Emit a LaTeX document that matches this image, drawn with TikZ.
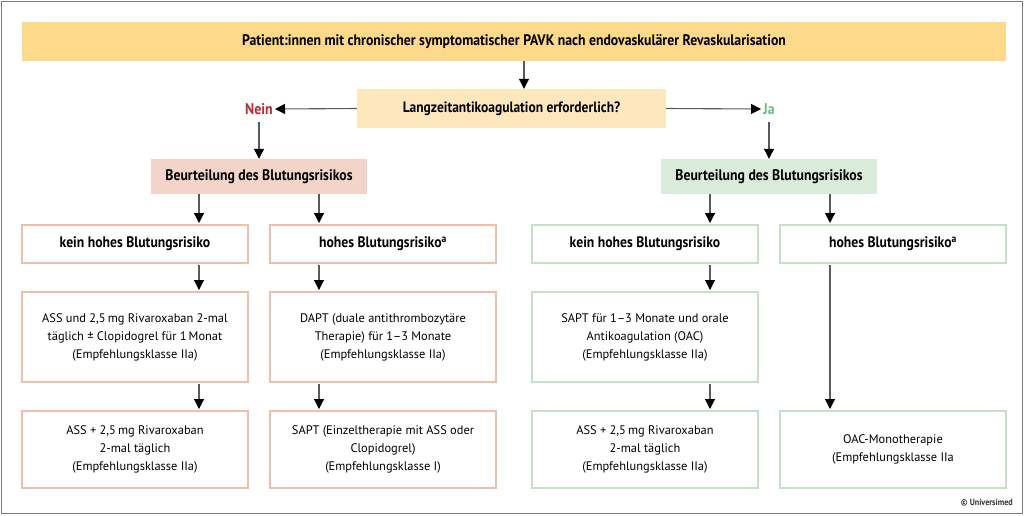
\documentclass[tikz,border=0pt]{standalone}
\usepackage{fontspec}
\setmainfont{PT Sans}[BoldFeatures={FakeStretch=0.9}]
\usetikzlibrary{arrows.meta,calc}
\definecolor{topfill}{HTML}{FCD98B}
\definecolor{qfill}{HTML}{FDE8BD}
\definecolor{neinred}{HTML}{C1272D}
\definecolor{jagreen}{HTML}{6FBA7C}
\definecolor{pinkfill}{HTML}{F3D4C9}
\definecolor{pinkline}{HTML}{EFBFAE}
\definecolor{greenfill}{HTML}{D9EBDA}
\definecolor{greenline}{HTML}{C4E0C7}
\definecolor{arrcol}{HTML}{5A5A5A}
\definecolor{framecol}{HTML}{7A7A7A}
\tikzset{
  boxbase/.style={inner sep=0pt, align=center, font=\fontsize{12.4}{18}\selectfont},
  headbox/.style={inner sep=0pt, align=center, font=\fontsize{15.3}{18}\selectfont\bfseries},
  riskbox/.style={font=\fontsize{15.2}{18}\selectfont\bfseries},
  pinkbox/.style={boxbase, draw=pinkline, line width=2pt, fill=white},
  greenbox/.style={boxbase, draw=greenline, line width=2pt, fill=white},
  answer/.style={font=\fontsize{15.5}{18}\selectfont\bfseries, inner sep=2pt},
  arr/.style={draw=arrcol, line width=1.1pt, -{Triangle[width=10pt,length=10pt,color=black]}},
}
\begin{document}
\begin{tikzpicture}[x=1pt,y=-1pt]
\useasboundingbox (0,0) rectangle (1024,515);
\draw[framecol, line width=1.5pt] (1.5,1.5) rectangle (1022.5,513.5);
% top
\node[headbox, fill=topfill, minimum width=984pt, minimum height=39pt] (top) at (514,41.5) {Patient:innen mit chronischer symptomatischer PAVK nach endovaskulärer Revaskularisation};
\node[headbox, font=\fontsize{15}{18}\selectfont\bfseries, fill=qfill, minimum width=309pt, minimum height=39pt] (q) at (511.5,108.5) {Langzeitantikoagulation erforderlich?};
\node[answer, text=neinred] (nein) at (259,109) {Nein};
\node[answer, text=jagreen] (ja) at (769,109) {Ja};
% assessment
\node[headbox, fill=pinkfill, minimum width=216pt, minimum height=35pt] (bl) at (259,176.5) {Beurteilung des Blutungsrisikos};
\node[headbox, fill=greenfill, minimum width=216pt, minimum height=35pt] (br) at (769,176.5) {Beurteilung des Blutungsrisikos};
% row 2
\node[pinkbox, riskbox, minimum width=226pt, minimum height=38pt] (l1) at (135,244) {kein hohes Blutungsrisiko};
\node[pinkbox, riskbox, minimum width=226pt, minimum height=38pt] (l2) at (383,244) {hohes Blutungsrisiko\textsuperscript{a}};
\node[greenbox, riskbox, minimum width=226pt, minimum height=38pt] (r1) at (645,244) {kein hohes Blutungsrisiko};
\node[greenbox, riskbox, minimum width=226pt, minimum height=38pt] (r2) at (893,244) {hohes Blutungsrisiko\textsuperscript{a}};
% row 3
\node[pinkbox, minimum width=226pt, minimum height=90pt] (l3) at (135,337) {ASS und 2,5\,mg Rivaroxaban 2-mal\\täglich ± Clopidogrel für 1\,Monat\\(Empfehlungsklasse IIa)};
\node[pinkbox, minimum width=226pt, minimum height=90pt] (l4) at (383,337) {DAPT (duale antithrombozytäre\\Therapie) für 1–3 Monate\\(Empfehlungsklasse IIa)};
\node[greenbox, minimum width=226pt, minimum height=90pt] (r3) at (645,337) {SAPT für 1–3 Monate und orale\\Antikoagulation (OAC)\\(Empfehlungsklasse IIa)};
% row 4
\node[pinkbox, minimum width=226pt, minimum height=77pt] (l5) at (135,449.5) {ASS + 2,5\,mg Rivaroxaban\\2-mal täglich\\(Empfehlungsklasse IIa)};
\node[pinkbox, minimum width=226pt, minimum height=77pt] (l6) at (383,449.5) {SAPT (Einzeltherapie mit ASS oder\\Clopidogrel)\\(Empfehlungsklasse I)};
\node[greenbox, minimum width=226pt, minimum height=77pt] (r5) at (645,449.5) {ASS + 2,5\,mg Rivaroxaban\\2-mal täglich\\(Empfehlungsklasse IIa)};
\node[greenbox, minimum width=226pt, minimum height=77pt] (r6) at (893,449.5) {OAC-Monotherapie\\(Empfehlungsklasse IIa};
\node[anchor=east, font=\fontsize{9}{10}\selectfont\bfseries, text=black!80, inner sep=0pt] (copy) at (1013,503) {© Universimed};
% arrow columns
\coordinate (xa) at (199,0);
\coordinate (xb) at (319,0);
\coordinate (xc) at (710,0);
\coordinate (xd) at (830,0);
\coordinate (xt) at (524,0);
% arrows
\draw[arr] (top.south -| xt) -- (q.north -| xt);
\draw[arr] (q.west) -- (nein.east);
\draw[arr] (q.east) -- (ja.west);
\draw[arr] ($(nein.south)+(0,5)$) -- (bl.north);
\draw[arr] ($(ja.south)+(0,5)$) -- (br.north);
\draw[arr] (bl.south -| xa) -- ($(l1.north -| xa)+(0,-1)$);
\draw[arr] (bl.south -| xb) -- ($(l2.north -| xb)+(0,-1)$);
\draw[arr] (br.south -| xc) -- ($(r1.north -| xc)+(0,-1)$);
\draw[arr] (br.south -| xd) -- ($(r2.north -| xd)+(0,-1)$);
\draw[arr] ($(l1.south -| xa)+(0,1)$) -- ($(l3.north -| xa)+(0,-1)$);
\draw[arr] ($(l2.south -| xb)+(0,1)$) -- ($(l4.north -| xb)+(0,-1)$);
\draw[arr] ($(r1.south -| xc)+(0,1)$) -- ($(r3.north -| xc)+(0,-1)$);
\draw[arr] ($(r2.south -| xd)+(0,1)$) -- ($(r6.north -| xd)+(0,-1)$);
\draw[arr] ($(l3.south -| xa)+(0,1)$) -- ($(l5.north -| xa)+(0,-1)$);
\draw[arr] ($(l4.south -| xb)+(0,1)$) -- ($(l6.north -| xb)+(0,-1)$);
\draw[arr] ($(r3.south -| xc)+(0,1)$) -- ($(r5.north -| xc)+(0,-1)$);
\end{tikzpicture}
\end{document}
